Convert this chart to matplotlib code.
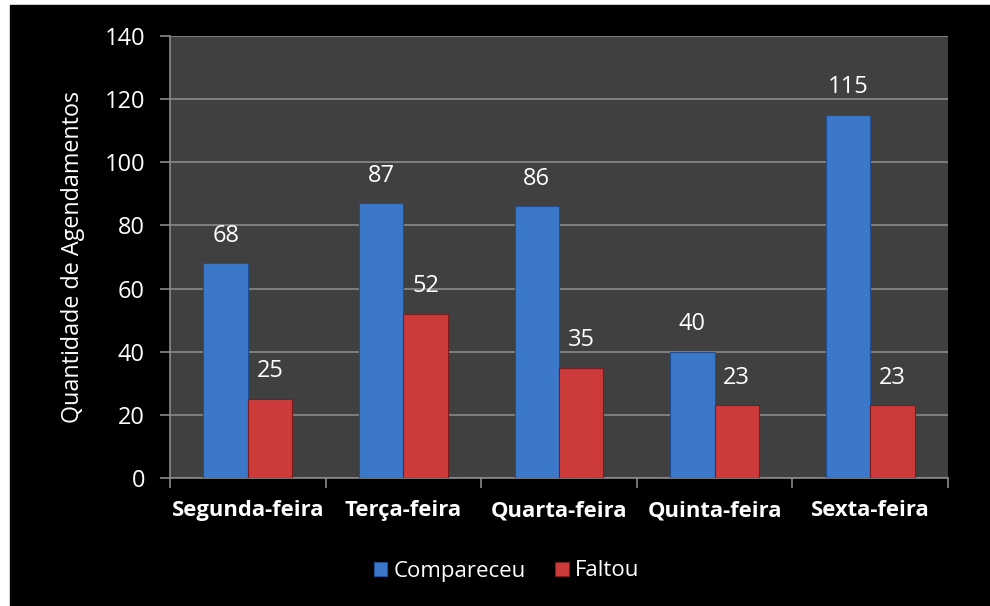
import matplotlib.pyplot as plt
import numpy as np

days = ['Segunda-feira', 'Terça-feira', 'Quarta-feira', 'Quinta-feira', 'Sexta-feira']
compareceu = [68, 87, 86, 40, 115]
faltou = [25, 52, 35, 23, 23]

BLUE = '#3b78c9'
RED = '#cc3a3a'

plt.rcParams['font.family'] = ['Open Sans', 'DejaVu Sans']

fig = plt.figure(figsize=(9.9, 6.06), dpi=100)
fig.patch.set_facecolor('white')
# black panel leaving a thin white strip at left and top
fig.add_artist(plt.Rectangle((10 / 990, 0), 1, 1 - 5 / 606,
                             transform=fig.transFigure, color='black', zorder=-10))

ax = fig.add_axes([170 / 990, 1 - 478 / 606, 778 / 990, 442 / 606])
ax.set_facecolor('#404040')

x = np.arange(len(days))
w = 0.285
b1 = ax.bar(x - w / 2, compareceu, w, color=BLUE, edgecolor='#1f4f8f',
            linewidth=0.8, label='Compareceu', zorder=3)
b2 = ax.bar(x + w / 2, faltou, w, color=RED, edgecolor='#7a1c1c',
            linewidth=0.8, label='Faltou', zorder=3)

for bars, vals in ((b1, compareceu), (b2, faltou)):
    for r, v in zip(bars, vals):
        ax.text(r.get_x() + r.get_width() / 2, v + 5, str(v), ha='center',
                va='bottom', color='white', fontsize=17)

ax.set_xlim(-0.5, len(days) - 0.5)
ax.set_ylim(0, 140)
ax.set_yticks(range(0, 141, 20))
ax.yaxis.grid(True, color='#8a8a8a', linewidth=1.2, zorder=0)
ax.set_axisbelow(True)

ax.set_xticks(np.arange(-0.5, len(days), 1))
ax.set_xticklabels([])
ax.set_xticks(x, minor=True)
ax.set_xticklabels(days, minor=True, fontsize=15.8, fontweight='bold', color='white')
ax.tick_params(axis='x', which='minor', length=0, pad=16)
ax.tick_params(axis='x', which='major', length=7, color='#8a8a8a', width=1.2)
ax.tick_params(axis='y', length=7, color='#8a8a8a', width=1.2, labelsize=17,
               labelcolor='white', pad=11)

for s in ['top', 'right']:
    ax.spines[s].set_visible(False)
for s in ['left', 'bottom']:
    ax.spines[s].set_color('#8a8a8a')
    ax.spines[s].set_linewidth(1.2)

ax.set_ylabel('Quantidade de Agendamentos', color='white', fontsize=16.8, labelpad=14)

leg = fig.legend(handles=[b1, b2], loc='center', bbox_to_anchor=(0.512, 1 - 571 / 606),
                 ncol=2, frameon=False, fontsize=16, handlelength=0.6,
                 handleheight=0.6, handletextpad=0.3, columnspacing=1.3)
for t in leg.get_texts():
    t.set_color('white')

fig.savefig('out.png', dpi=100, facecolor=fig.get_facecolor())
